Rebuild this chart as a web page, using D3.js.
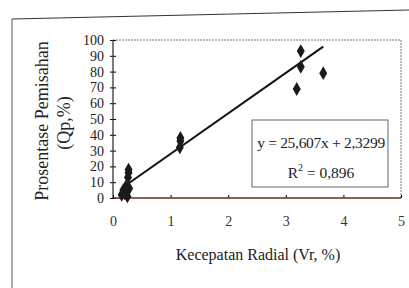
<!DOCTYPE html>
<html>
<head>
<meta charset="utf-8">
<script src="https://cdn.jsdelivr.net/npm/d3@7"></script>
<style>
  body { margin: 0; background: #fff; }
  svg { display: block; }
  text { font-family: "Liberation Serif", "DejaVu Serif", serif; fill: #222; }
</style>
</head>
<body>
<div id="chart"></div>
<script>
// Data
var vr = [0.15, 0.18, 0.2, 0.22, 0.25, 0.26, 0.27, 0.27, 0.28, 1.17, 1.17, 1.16, 3.26, 3.26, 3.19, 3.65];
var qp = [2, 5, 3, 7, 1, 13, 16, 18, 6, 38, 36, 32, 93, 83, 69, 79];
var xTicks = [0, 1, 2, 3, 4, 5];
var yTicks = [0, 10, 20, 30, 40, 50, 60, 70, 80, 90, 100];
var slope = 25.607, intercept = 2.3299;
var eqText = "y = 25,607x + 2,3299";
var r2Text = "= 0,896";

var width = 409, height = 288;
var margin = {top: 40, right: 7, bottom: 90, left: 113};

var svg = d3.select("#chart")
    .append("svg")
        .attr("width", width)
        .attr("height", height);

// Outer frame (scanned page border)
svg.append("line")
    .attr("x1", 12).attr("y1", 19).attr("x2", 409).attr("y2", 10)
    .style("stroke", "#333").style("stroke-width", 1.2);
svg.append("line")
    .attr("x1", 12).attr("y1", 19).attr("x2", 12).attr("y2", 288)
    .style("stroke", "#555").style("stroke-width", 1);

var x = d3.scaleLinear()
    .domain([0, 5])
    .range([margin.left, width - margin.right - 1]);

var y = d3.scaleLinear()
    .domain([0, 100])
    .range([height - margin.bottom, margin.top]);

// Plot area border (dotted top/right)
svg.append("path")
    .attr("d", "M" + x(0) + "," + y(100) + "H" + x(5) + "V" + y(0))
    .style("fill", "none")
    .style("stroke", "#777")
    .style("stroke-dasharray", "2,1")
    .style("stroke-width", 1);

// Y axis
var yAxis = svg.append("g")
    .attr("transform", "translate(" + x(0) + ",0)")
    .call(d3.axisLeft(y).tickValues(yTicks).tickSize(4).tickPadding(5));
yAxis.selectAll(".tick line").attr("x2", 3).attr("x1", -3);
yAxis.select(".domain").remove();
yAxis.append("line")
    .attr("y1", y(0)).attr("y2", y(100))
    .style("stroke", "#334").style("stroke-width", 1.3);
yAxis.selectAll("text")
    .style("font-size", "14px")
    .style("font-family", "Liberation Serif, serif")
    .style("fill", "#222");

// X axis
var xAxis = svg.append("g")
    .attr("transform", "translate(0," + y(0) + ")")
    .call(d3.axisBottom(x).tickValues(xTicks).tickFormat(d3.format("d")).tickSize(-3).tickPadding(18));
xAxis.select(".domain").remove();
xAxis.append("line")
    .attr("x1", x(0)).attr("x2", x(5))
    .style("stroke", "#6a2a24").style("stroke-width", 1.3);
xAxis.selectAll("text")
    .style("font-size", "14px")
    .style("font-family", "Liberation Serif, serif")
    .style("fill", "#333");

// Trend line over data range
var xmin = d3.min(vr), xmax = d3.max(vr);
svg.append("line")
    .attr("x1", x(xmin)).attr("y1", y(slope * xmin + intercept))
    .attr("x2", x(xmax)).attr("y2", y(slope * xmax + intercept))
    .style("stroke", "#111")
    .style("stroke-width", 2);

// Points
svg.selectAll(".pt")
    .data(vr)
    .enter()
    .append("path")
    .attr("class", "pt")
    .attr("transform", function(d, i) {
        return "translate(" + x(d) + "," + y(qp[i]) + ")";
    })
    .attr("d", d3.symbol().type(d3.symbolDiamond).size(55))
    .style("fill", "#1a1a1a");

// Equation box
svg.append("rect")
    .attr("x", 252).attr("y", 120)
    .attr("width", 136).attr("height", 67)
    .style("fill", "#fff")
    .style("stroke", "#666")
    .style("stroke-width", 1);

svg.append("text")
    .attr("x", 321).attr("y", 148)
    .attr("text-anchor", "middle")
    .style("font-size", "15.5px")
    .style("letter-spacing", "-0.3px")
    .text(eqText);

var r2 = svg.append("text")
    .attr("x", 321).attr("y", 178)
    .attr("text-anchor", "middle")
    .style("font-size", "15.5px");
r2.append("tspan").text("R");
r2.append("tspan").attr("dy", -7).style("font-size", "10px").text("2");
r2.append("tspan").attr("dy", 7).text(" " + r2Text);

// Axis titles
svg.append("text")
    .attr("transform", "translate(48,121) rotate(-90)")
    .attr("text-anchor", "middle")
    .style("font-size", "18px")
    .text("Prosentase Pemisahan");
svg.append("text")
    .attr("transform", "translate(70,123) rotate(-90)")
    .attr("text-anchor", "middle")
    .style("font-size", "18px")
    .text("(Qp,%)");

svg.append("text")
    .attr("x", 258).attr("y", 260)
    .attr("text-anchor", "middle")
    .style("font-size", "16px")
    .text("Kecepatan Radial (Vr, %)");
</script>
</body>
</html>
